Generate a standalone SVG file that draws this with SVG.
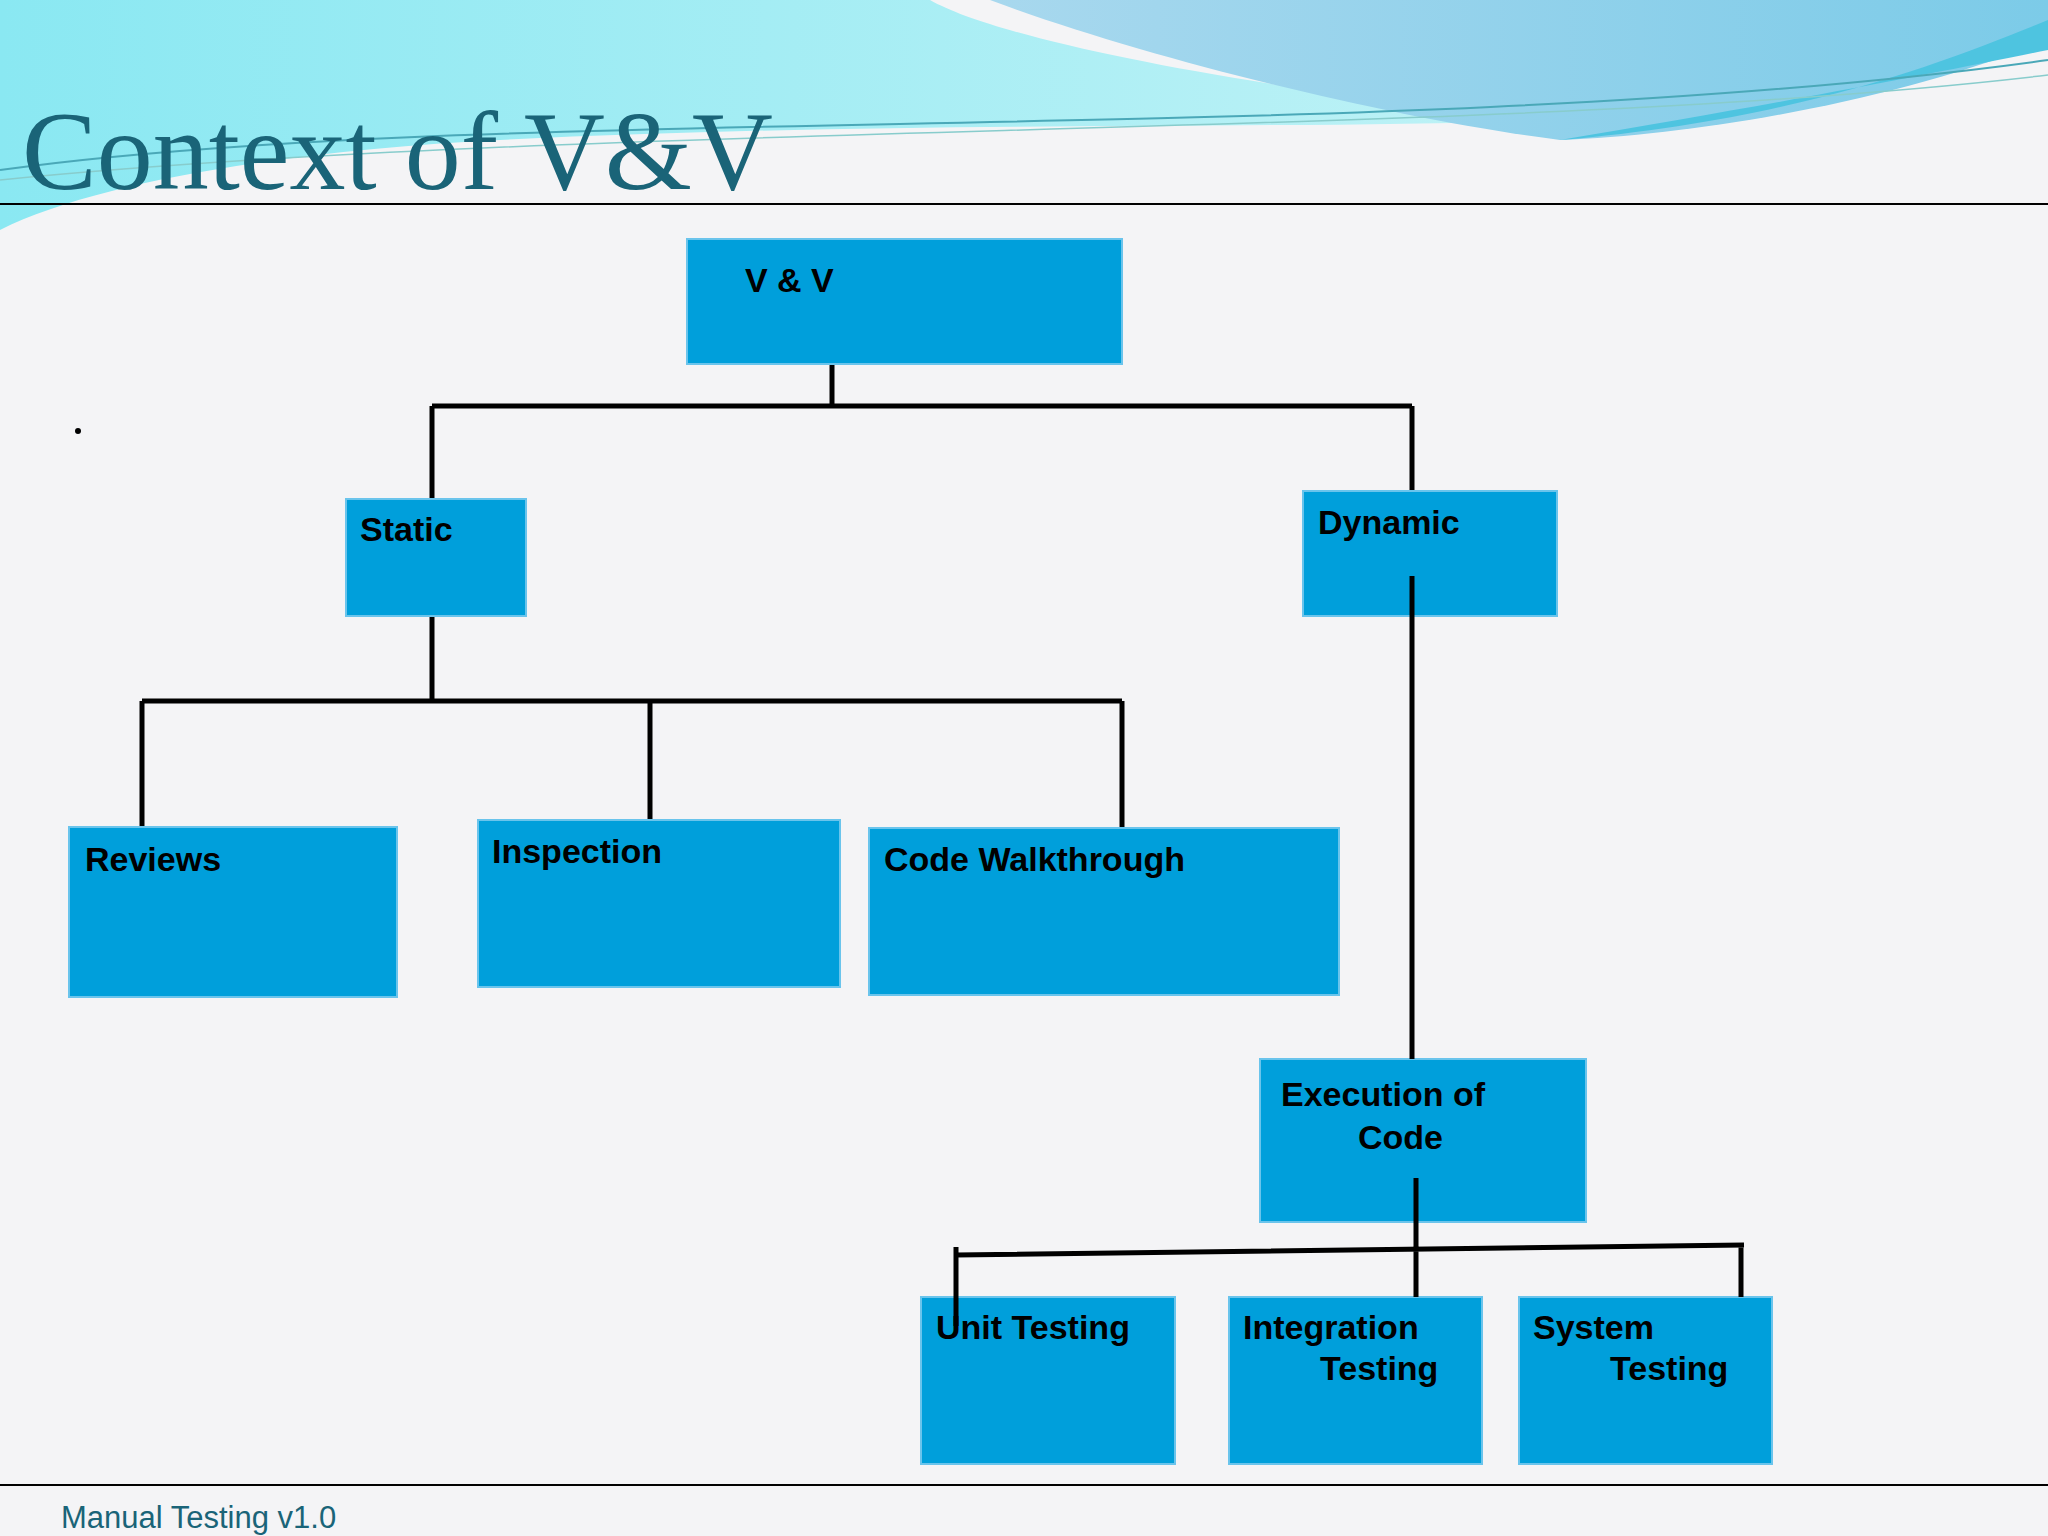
<svg xmlns="http://www.w3.org/2000/svg" width="2048" height="1536" viewBox="0 0 2048 1536">
<defs>
<linearGradient id="w1" x1="0" y1="0" x2="1" y2="0"><stop offset="0" stop-color="#8ae8f2"/><stop offset="1" stop-color="#bff2f6"/></linearGradient>
<linearGradient id="w2" x1="0" y1="0" x2="1" y2="0"><stop offset="0" stop-color="#a8d8ee"/><stop offset="1" stop-color="#7ccbe8"/></linearGradient>
<style>
.n{fill:#009fdb;stroke:#6ac4ec;stroke-width:2}
.t{font-family:"Liberation Sans",Arial,sans-serif;font-weight:bold;font-size:34px;fill:#000}
.c{stroke:#000;stroke-width:5;fill:none}
</style>
</defs>
<rect width="2048" height="1536" fill="#f4f4f6"/>
<g id="header">
<path d="M0 0H930C1000 40 1250 90 1560 120C1300 130 900 120 500 140C300 150 100 180 0 230Z" fill="url(#w1)"/>
<path d="M990 0H2048V40C1900 100 1700 135 1560 140C1400 120 1150 60 990 0Z" fill="url(#w2)"/>
<path d="M2048 20C1950 60 1800 120 1560 140C1800 100 1950 70 2048 50Z" fill="#4ec4e0"/>
<path d="M0 170C500 100 1400 150 2048 60" stroke="#4aa8b8" stroke-width="2" fill="none"/>
<path d="M0 180C600 120 1500 140 2048 75" stroke="#8cc" stroke-width="1.5" fill="none"/>
<rect x="0" y="203" width="2048" height="2" fill="#000"/>
<text x="22" y="189" font-family="Liberation Serif,'Times New Roman',serif" font-size="112" fill="#1a6478">Context of V&amp;V</text>
<circle cx="78" cy="431" r="3" fill="#000"/>
</g>
<g id="connectors">
<path class="c" d="M832 364V406M432 406H1412M432 406V499M1412 406V491M432 616V701M142 701H1122M142 701V827M650 701V820M1122 701V828"/>
</g>
<g id="vv"><rect class="n" x="687" y="239" width="435" height="125"/><text class="t" x="745" y="292" font-size="42">V &amp; V</text></g>
<g id="static"><rect class="n" x="346" y="499" width="180" height="117"/><text class="t" x="360" y="541">Static</text></g>
<g id="dynamic"><rect class="n" x="1303" y="491" width="254" height="125"/><text class="t" x="1318" y="534">Dynamic</text></g>
<g id="reviews"><rect class="n" x="69" y="827" width="328" height="170"/><text class="t" x="85" y="871">Reviews</text></g>
<g id="inspection"><rect class="n" x="478" y="820" width="362" height="167"/><text class="t" x="492" y="863">Inspection</text></g>
<g id="walkthrough"><rect class="n" x="869" y="828" width="470" height="167"/><text class="t" x="884" y="871">Code Walkthrough</text></g>
<g id="execution"><rect class="n" x="1260" y="1059" width="326" height="163"/><text class="t" x="1281" y="1106">Execution of</text><text class="t" x="1358" y="1149">Code</text></g>
<g id="unit"><rect class="n" x="921" y="1297" width="254" height="167"/><text class="t" x="936" y="1339">Unit  Testing</text></g>
<g id="integration"><rect class="n" x="1229" y="1297" width="253" height="167"/><text class="t" x="1243" y="1339">Integration</text><text class="t" x="1320" y="1380">Testing</text></g>
<g id="system"><rect class="n" x="1519" y="1297" width="253" height="167"/><text class="t" x="1533" y="1339">System</text><text class="t" x="1610" y="1380">Testing</text></g>
<g id="connectors2">
<path class="c" d="M1412 576V1059M1416 1178V1297M956 1255L1744 1245M956 1247V1326M1741 1245V1297"/>
</g>
<rect x="0" y="1484" width="2048" height="2" fill="#000"/>
<text x="61" y="1528" font-family="Liberation Sans,Arial,sans-serif" font-size="31" fill="#1a6478">Manual Testing v1.0</text>
</svg>
